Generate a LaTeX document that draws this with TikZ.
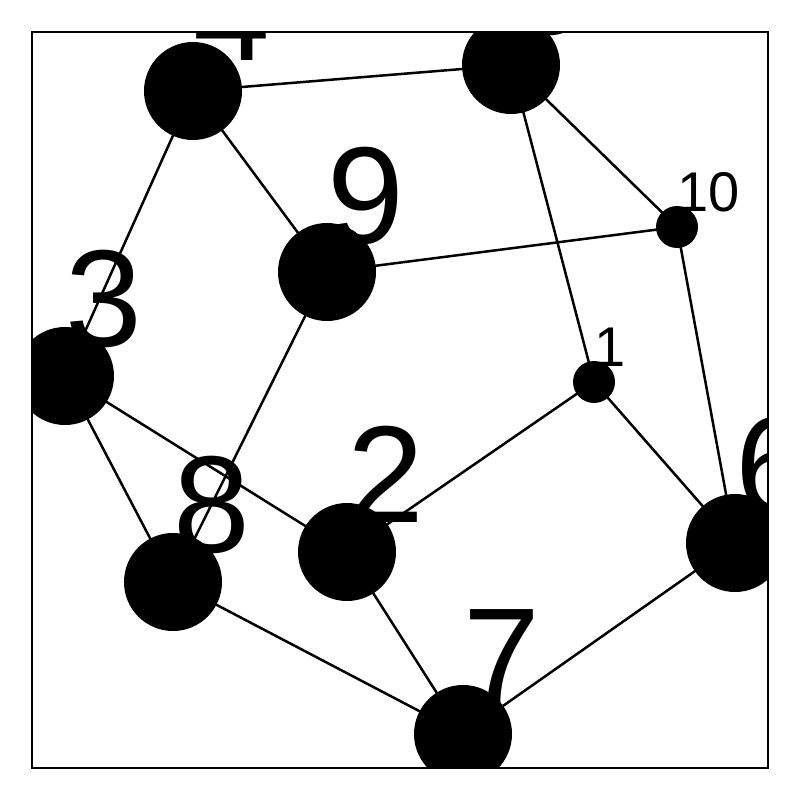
\documentclass[tikz,border=0pt]{standalone}
\usepackage{fontspec}
\setmainfont{Liberation Sans}
\begin{document}
\begin{tikzpicture}[x=1pt,y=-1pt,
  big/.style={circle,fill=black,minimum size=98pt,inner sep=0pt,draw=none},
  small/.style={circle,fill=black,minimum size=42pt,inner sep=0pt,draw=none},
  biglab/.style={anchor=base west,inner sep=0pt,font=\fontsize{138}{138}\selectfont},
  smalllab/.style={anchor=base west,inner sep=0pt,font=\fontsize{56}{56}\selectfont},
  edge/.style={line width=2.5pt}]
\useasboundingbox (0,0) rectangle (800,800);
\begin{scope}
\clip (32,32) rectangle (768,768);
\coordinate (p1) at (594,382);
\coordinate (p10) at (677,227);
\coordinate (p5) at (511,65);
\coordinate (p4) at (193,91);
\coordinate (p9) at (327,272);
\coordinate (p3) at (65,376);
\coordinate (p8) at (173,582);
\coordinate (p2) at (347,552);
\coordinate (p7) at (463,734);
\coordinate (p6) at (735,543);
\draw[edge] (p4) -- (p5);
\draw[edge] (p4) -- (p3);
\draw[edge] (p4) -- (p9);
\draw[edge] (p5) -- (p10);
\draw[edge] (p5) -- (p1);
\draw[edge] (p10) -- (p9);
\draw[edge] (p10) -- (p6);
\draw[edge] (p1) -- (p2);
\draw[edge] (p1) -- (p6);
\draw[edge] (p3) -- (p8);
\draw[edge] (p3) -- (p2);
\draw[edge] (p9) -- (p8);
\draw[edge] (p8) -- (p7);
\draw[edge] (p2) -- (p7);
\draw[edge] (p7) -- (p6);
\node[small] (n1) at (p1) {};
\node[small] (n10) at (p10) {};
\node[big] (n5) at (p5) {};
\node[big] (n4) at (p4) {};
\node[big] (n9) at (p9) {};
\node[big] (n3) at (p3) {};
\node[big] (n8) at (p8) {};
\node[big] (n2) at (p2) {};
\node[big] (n7) at (p7) {};
\node[big] (n6) at (p6) {};
\node[smalllab] (l1) at ([yshift=15.5pt]p1) {1};
\node[smalllab] (l10) at ([yshift=15.5pt]p10) {10};
\node[biglab] (l5) at ([yshift=30pt]p5) {5};
\node[biglab] (l4) at ([yshift=30pt]p4) {4};
\node[biglab] (l9) at ([yshift=29pt]p9) {9};
\node[biglab] (l3) at ([yshift=30pt]p3) {3};
\node[biglab] (l8) at ([yshift=30pt]p8) {8};
\node[biglab] (l2) at ([yshift=30pt]p2) {2};
\node[biglab] (l7) at ([yshift=30pt]p7) {7};
\node[biglab] (l6) at ([yshift=30pt]p6) {6};
\end{scope}
\draw[line width=2pt] (32,32) rectangle (768,768);
\end{tikzpicture}
\end{document}
